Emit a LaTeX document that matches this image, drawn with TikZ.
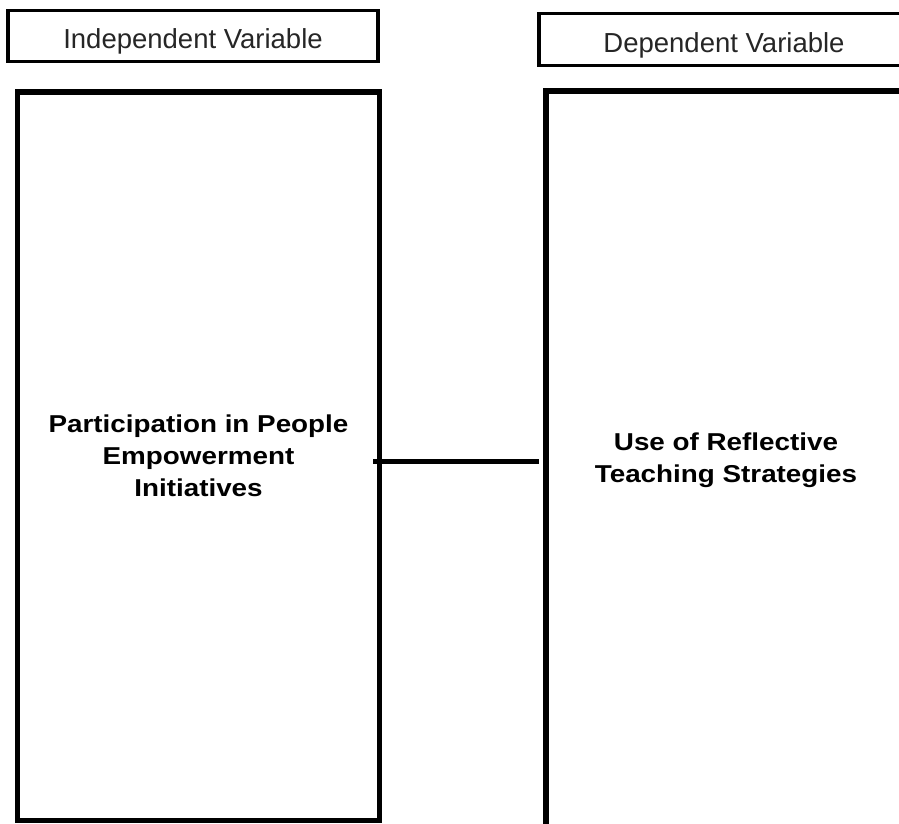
\documentclass[tikz,border=0pt]{standalone}
\usepackage{fontspec}
\setmainfont{Liberation Sans}
\newfontfamily\boldwide[FakeStretch=1.14]{Liberation Sans}
\begin{document}
\begin{tikzpicture}[x=1pt,y=-1pt,
  labelbox/.style={draw=black,line width=3.5pt,fill=white,inner sep=0pt,outer sep=0pt,
    text height=25pt,text depth=0pt,
    font=\fontsize{27.5}{33}\selectfont,text=black!85},
  varbox/.style={draw=black,line width=5.5pt,fill=white,inner sep=0pt,outer sep=0pt,
    align=center,font=\boldwide\bfseries\fontsize{24.4}{32}\selectfont},
  link/.style={line width=5.5pt,draw=black}]
\useasboundingbox (0,0) rectangle (899,823);
\clip (0,0) rectangle (899,823);
\node[labelbox,minimum width=370pt,minimum height=51pt] (IVlabel) at (193,35.8) {Independent Variable};
\node[labelbox,minimum width=370pt,minimum height=51.6pt] (DVlabel) at (724,39.5) {Dependent Variable};
\node[varbox,minimum width=362pt,minimum height=728.5pt] (IV) at (198.5,456.25)
  {Participation in People\\Empowerment\\Initiatives};
\node[varbox,minimum width=360pt,minimum height=739pt] (DV) at (726,460.5)
  {Use of Reflective\\Teaching Strategies};
\draw[link] ([shift={(-6.5pt,-5.25pt)}]IV.east) -- ([shift={(-7pt,-1pt)}]DV.west);
\end{tikzpicture}
\end{document}
